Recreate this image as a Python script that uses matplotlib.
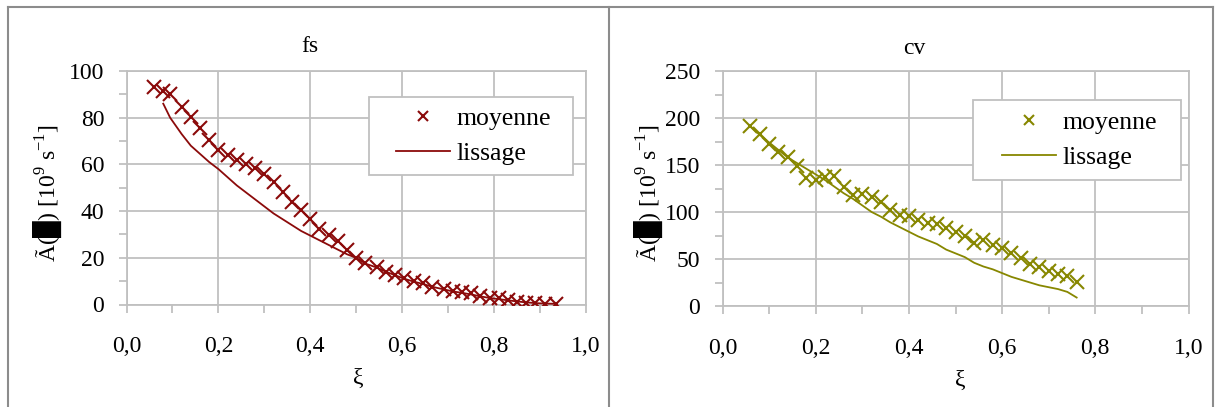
import numpy as np
import matplotlib
matplotlib.use("Agg")
import matplotlib.pyplot as plt
from matplotlib.lines import Line2D
from matplotlib.patches import Rectangle
from matplotlib.ticker import MultipleLocator, FuncFormatter

plt.rcParams['font.family'] = ['Liberation Serif', 'DejaVu Sans']
plt.rcParams['mathtext.fontset'] = 'custom'
plt.rcParams['mathtext.rm'] = 'Liberation Serif'

# fs : moyenne
fs_x = [0.06, 0.08, 0.095, 0.12, 0.14, 0.16, 0.18, 0.20, 0.22, 0.24, 0.26, 0.28,
        0.30, 0.32, 0.34, 0.36, 0.38, 0.40, 0.42, 0.44, 0.46, 0.48, 0.50, 0.52,
        0.545, 0.565, 0.585, 0.605, 0.625, 0.645, 0.665, 0.69, 0.71, 0.73, 0.75,
        0.77, 0.79, 0.81, 0.83, 0.85, 0.87, 0.89, 0.91, 0.935]
fs_moy = [93, 91.5, 90, 84.5, 80.5, 75.5, 70.5, 66, 64, 62, 60, 58.3,
          56, 52.5, 48, 44, 40.5, 36.5, 32.2, 29.8, 27, 23.3, 20, 17.6,
          15.9, 14, 12.6, 11.2, 10.1, 9.1, 7.6, 6.6, 5.9, 5.5, 4.8,
          3.6, 2.7, 2.7, 1.9, 1.2, 0.8, 0.6, 0.3, 0.3]
# fs : lissage
fs_lx = fs_x[1:]
fs_liss = [86, 80, 73, 68, 64.5, 61, 58, 54.5, 51, 48, 45,
           42, 39, 36.5, 34, 31.5, 29.5, 27.5, 25.5, 23.5, 21.5, 20, 17.5,
           15.8, 14, 12.5, 11, 9.8, 8.8, 7.6, 6.5, 5.6, 5, 4.3,
           3.5, 2.8, 2.3, 1.8, 1.3, 0.9, 0.6, 0.4, 0.3]

# cv : moyenne
cv_x = [0.06, 0.08, 0.10, 0.12, 0.14, 0.16, 0.18, 0.20, 0.22, 0.24, 0.26, 0.28,
        0.30, 0.32, 0.34, 0.36, 0.38, 0.40, 0.42, 0.44, 0.46, 0.48, 0.50, 0.52,
        0.54, 0.56, 0.58, 0.60, 0.62, 0.64, 0.66, 0.68, 0.70, 0.72, 0.74, 0.76]
cv_moy = [191, 183, 172, 164, 159, 149, 136, 134, 137, 138, 127, 118,
          119, 116, 111, 102, 97, 96, 91, 88, 87, 83, 79, 74,
          67, 70, 65, 62, 56, 51, 45, 42, 37, 34, 32, 26]
# cv : lissage
cv_liss = [191, 182, 174, 166, 158, 152, 146, 140, 134, 127, 120, 114,
           107, 100, 95, 89, 84, 79, 74, 70, 66, 60, 56, 52,
           46, 42, 39, 35, 31, 28, 25, 22, 20, 18, 15, 9]

xticks = [0.0, 0.2, 0.4, 0.6, 0.8, 1.0]
ylabel = 'Ã(█) [10$^{9}$ s$^{-1}$]'

W, H = 1215, 407
fig = plt.figure(figsize=(W / 100, H / 100), dpi=100)

grid_c = '#C0C0C0'
fsz = 17
leg_fsz = 18.5


def fx(px):
    return px / W


def fy(py):
    return 1 - py / H


def panel(rect, title, title_xy, x, y, lx, ly, color, ymax, ystep,
          leg_box, leg_anchor, ylab_xy, xlab_xy):
    ax = fig.add_axes(rect)
    ax.plot(x, y, linestyle='none', marker='x', ms=10, mew=1.5, color=color,
            label='moyenne', zorder=3)
    ax.plot(lx, ly, color=color, lw=1.3, label='lissage', zorder=3)
    ax.set_xlim(0, 1)
    ax.set_ylim(0, ymax)
    ax.set_xticks(xticks)
    ax.xaxis.set_minor_locator(MultipleLocator(0.1))
    ax.yaxis.set_major_locator(MultipleLocator(ystep))
    ax.yaxis.set_minor_locator(MultipleLocator(ystep / 2))
    ax.xaxis.set_major_formatter(FuncFormatter(lambda v, p: f'{v:.1f}'.replace('.', ',')))
    ax.grid(True, which='major', color=grid_c, lw=1.3)
    ax.set_axisbelow(True)
    for s in ax.spines.values():
        s.set_color(grid_c)
        s.set_linewidth(1.3)
    ax.tick_params(which='both', direction='out', color=grid_c, width=1.3,
                   labelsize=fsz, top=False, right=False)
    ax.tick_params(axis='y', which='both', length=6, pad=10)
    ax.tick_params(axis='x', which='both', length=6, pad=17)

    fig.text(fx(title_xy[0]), fy(title_xy[1]), title, ha='center', va='center', fontsize=fsz)
    fig.text(fx(ylab_xy[0]), fy(ylab_xy[1]), ylabel, rotation=90, ha='center',
             va='center', fontsize=fsz)
    fig.text(fx(xlab_xy[0]), fy(xlab_xy[1]), 'ξ', ha='center', va='center', fontsize=fsz)

    # cadre de la légende
    x0, y0, x1, y1 = leg_box
    ax.add_patch(Rectangle((fx(x0), fy(y1)), fx(x1) - fx(x0), fy(y0) - fy(y1),
                           transform=fig.transFigure, facecolor='white',
                           edgecolor=grid_c, lw=1.3, zorder=4, clip_on=False))
    leg = ax.legend(loc='upper left', bbox_to_anchor=(fx(leg_anchor[0]), fy(leg_anchor[1])),
                    bbox_transform=fig.transFigure,
                    fontsize=leg_fsz, frameon=False, handlelength=2.1, handletextpad=0.25,
                    borderpad=0, labelspacing=0.45, markerscale=0.7,
                    borderaxespad=0)
    leg.set_zorder(5)
    return ax


panel([fx(126.5), fy(304.5), fx(586) - fx(126.5), fy(71) - fy(304.5)], 'fs', (310, 47),
      fs_x, fs_moy, fs_lx, fs_liss, '#8B0A0A', 100, 20,
      (369, 97, 573, 175), (396, 107), (48, 193), (358, 378))

panel([fx(722.5), fy(306), fx(1188.5) - fx(722.5), fy(71) - fy(306)], 'cv', (914, 49),
      cv_x, cv_moy, cv_x, cv_liss, '#878700', 250, 50,
      (973, 100, 1181, 180), (1002, 111), (649, 193), (960, 380))

# cadres des deux graphiques
border_c = '#8C8C8C'
for xs, ys in [([fx(8), fx(8)], [fy(7), 0]), ([fx(8), fx(1213)], [fy(7), fy(7)]),
               ([fx(609), fx(609)], [fy(7), 0]), ([fx(1213), fx(1213)], [fy(7), 0])]:
    fig.add_artist(Line2D(xs, ys, color=border_c, lw=1.5))

fig.savefig('out.png', dpi=100)
